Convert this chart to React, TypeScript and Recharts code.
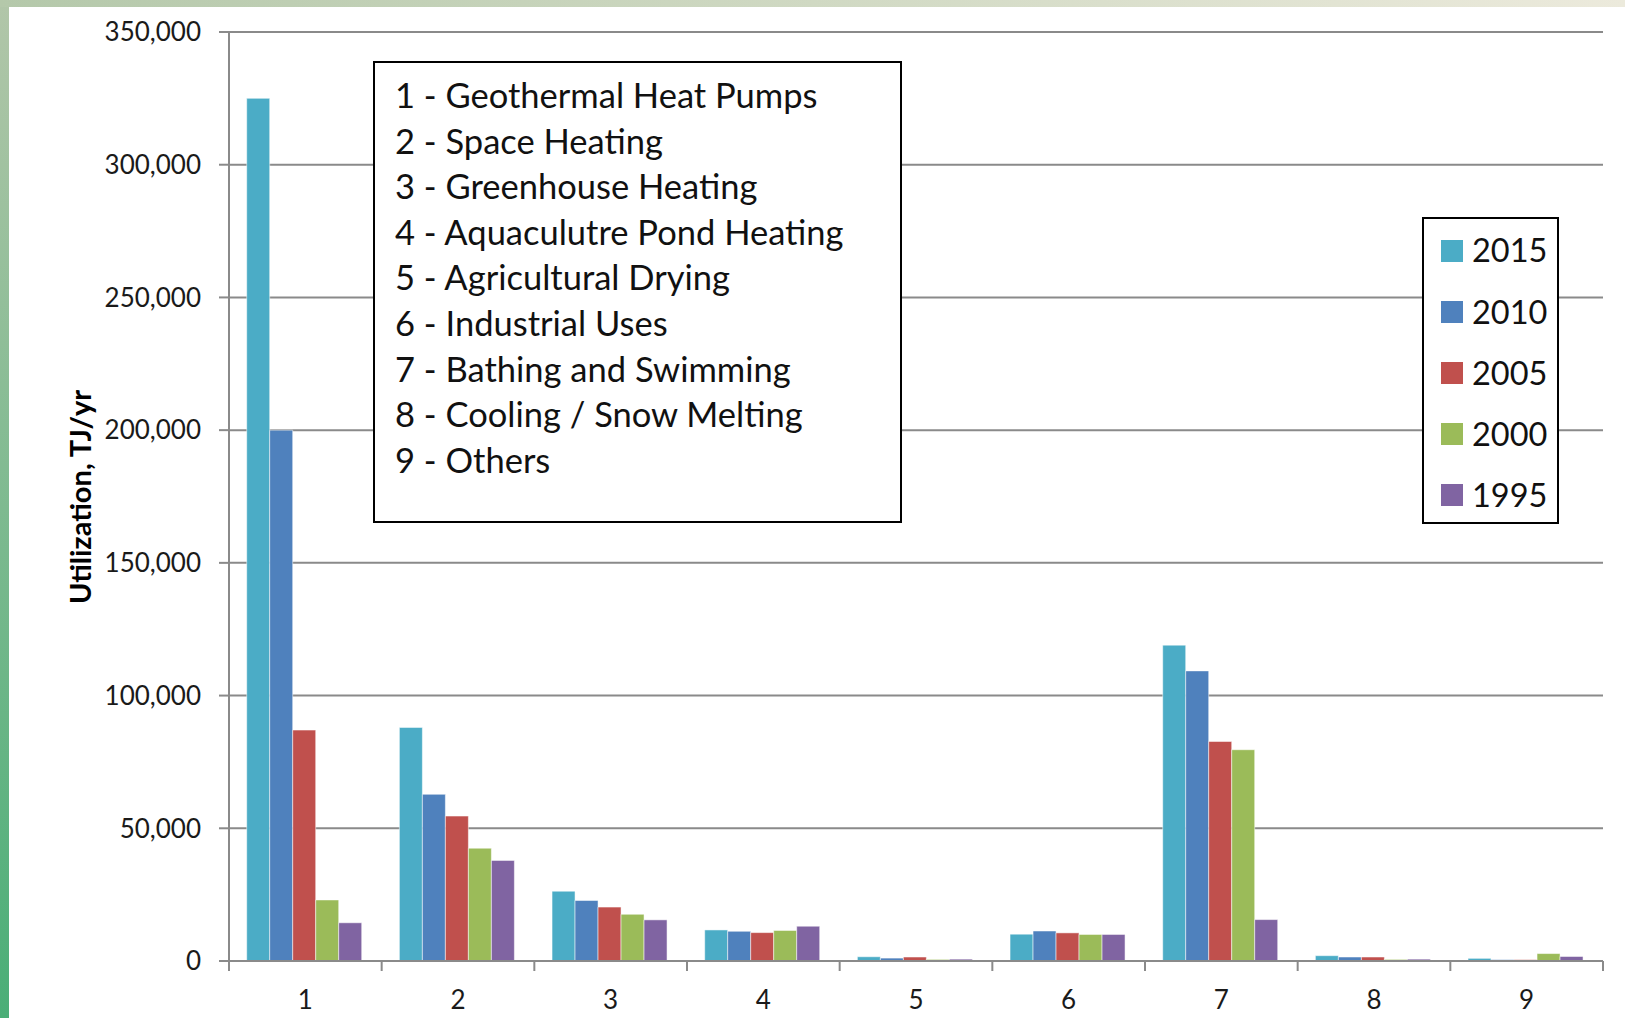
import { BarChart, Bar, XAxis, YAxis, CartesianGrid, Legend } from 'recharts';

const categories = ['1', '2', '3', '4', '5', '6', '7', '8', '9'];
const categoryNames = [
  'Geothermal Heat Pumps',
  'Space Heating',
  'Greenhouse Heating',
  'Aquaculutre Pond Heating',
  'Agricultural Drying',
  'Industrial Uses',
  'Bathing and Swimming',
  'Cooling / Snow Melting',
  'Others',
];
const years = ['2015', '2010', '2005', '2000', '1995'];
const v2015 = [325000, 88000, 26300, 11700, 1600, 10100, 119000, 2000, 1000];
const v2010 = [200000, 62800, 22800, 11200, 1100, 11300, 109300, 1500, 500];
const v2005 = [87000, 54600, 20300, 10700, 1500, 10600, 82700, 1500, 500];
const v2000 = [23000, 42500, 17600, 11500, 600, 10000, 79600, 600, 2800];
const v1995 = [14400, 37900, 15500, 13100, 700, 10000, 15600, 700, 1700];
const yTicks = [0, 50000, 100000, 150000, 200000, 250000, 300000, 350000];

const yearColors = ['#4bacc6', '#4f81bd', '#c0504d', '#9bbb59', '#8064a2'];
const seriesValues = [v2015, v2010, v2005, v2000, v1995];

const data = categories.map((c, i) => {
  const row: Record<string, string | number> = { cat: c };
  years.forEach((y, k) => {
    row['y' + y] = seriesValues[k][i];
  });
  return row;
});

const W = 1625;
const H = 1018;
const PLOT_LEFT = 229;
const PLOT_RIGHT = 1603;
const BAND = (PLOT_RIGHT - PLOT_LEFT) / categories.length;
const FONT = 'Lato, "Open Sans", sans-serif';
const GRID = '#8a8a8a';

function CatTick(props: any) {
  const { x, y, payload } = props;
  const last = payload.value === categories[categories.length - 1];
  return (
    <g>
      <line x1={x - BAND / 2} x2={x - BAND / 2} y1={y} y2={y + 10} stroke={GRID} strokeWidth={2} />
      {last && <line x1={x + BAND / 2} x2={x + BAND / 2} y1={y} y2={y + 10} stroke={GRID} strokeWidth={2} />}
      <text x={x} y={y + 48} textAnchor="middle" fontSize={26} fill="#1a1a1a" fontFamily={FONT}>
        {payload.value}
      </text>
    </g>
  );
}

function YLabel() {
  return (
    <text
      x={79}
      y={497}
      transform="rotate(-90 79 497)"
      textAnchor="middle"
      dominantBaseline="central"
      fontWeight="bold"
      fontSize={29}
      fill="#000"
      fontFamily={FONT}
    >
      Utilization, TJ/yr
    </text>
  );
}

// legend drawn in the series order (newest first), like the original
function YearLegend() {
  return (
    <div
      style={{
        background: '#fff',
        border: '2px solid #000',
        boxSizing: 'border-box',
        width: 137,
        height: 307,
        padding: '1px 0 0 17px',
        fontFamily: FONT,
      }}
    >
      {years.map((y, k) => (
        <div key={y} style={{ display: 'flex', alignItems: 'center', height: 61.2 }}>
          <span style={{ display: 'inline-block', width: 22, height: 22, background: yearColors[k], marginRight: 9 }} />
          <span style={{ fontSize: 32.5, color: '#111', lineHeight: 1 }}>{y}</span>
        </div>
      ))}
    </div>
  );
}

export default function App() {
  return (
    <div
      style={{
        position: 'absolute',
        left: 0,
        top: 0,
        width: W,
        height: H,
        background: 'linear-gradient(to bottom, #b2c6a9 0%, #4aae77 100%)',
        overflow: 'hidden',
      }}
    >
      <div
        style={{
          position: 'absolute',
          left: 0,
          top: 0,
          width: W,
          height: 7,
          background: 'linear-gradient(to right, #b4c8aa, #eceadc)',
        }}
      />
      <div style={{ position: 'absolute', left: 9, top: 7, right: 0, bottom: 0, background: '#fff' }} />
      <div style={{ position: 'absolute', left: 0, top: 0 }}>
        <BarChart
          width={W}
          height={H}
          data={data}
          margin={{ top: 32, right: W - PLOT_RIGHT, bottom: 0, left: 0 }}
          barCategoryGap="11.6%"
          barGap={0}
        >
          <CartesianGrid vertical={false} stroke={GRID} strokeWidth={2} />
          <XAxis
            dataKey="cat"
            height={57}
            axisLine={{ stroke: GRID, strokeWidth: 2 }}
            tickLine={false}
            tickSize={0}
            tickMargin={0}
            tick={<CatTick />}
            interval={0}
          />
          <YAxis
            width={PLOT_LEFT}
            domain={[0, 350000]}
            ticks={yTicks}
            interval={0}
            axisLine={{ stroke: GRID, strokeWidth: 2 }}
            tickLine={{ stroke: GRID, strokeWidth: 2 }}
            tickSize={10}
            tickMargin={18}
            tick={{ fontSize: 26, fill: '#1a1a1a', fontFamily: FONT }}
            tickFormatter={(v: number) => v.toLocaleString('en-US')}
            label={<YLabel />}
          />
          <Legend
            layout="vertical"
            align="center"
            verticalAlign="middle"
            wrapperStyle={{ left: 1422, top: 217, width: 137 }}
            content={<YearLegend />}
          />
          {years.map((y, k) => (
            <Bar
              key={y}
              dataKey={'y' + y}
              name={y}
              fill={yearColors[k]}
              stroke="rgba(255,255,255,0.5)"
              strokeWidth={1}
              isAnimationActive={false}
            />
          ))}
        </BarChart>
      </div>
      <div
        style={{
          position: 'absolute',
          left: 373,
          top: 61,
          width: 529,
          height: 462,
          boxSizing: 'border-box',
          border: '2px solid #000',
          background: '#fff',
          padding: '9px 0 0 20px',
          fontFamily: FONT,
          fontSize: 34.5,
          lineHeight: '45.6px',
          color: '#111',
        }}
      >
        {categories.map((c, i) => (
          <div key={c} style={{ whiteSpace: 'nowrap' }}>
            {c} - {categoryNames[i]}
          </div>
        ))}
      </div>
    </div>
  );
}
